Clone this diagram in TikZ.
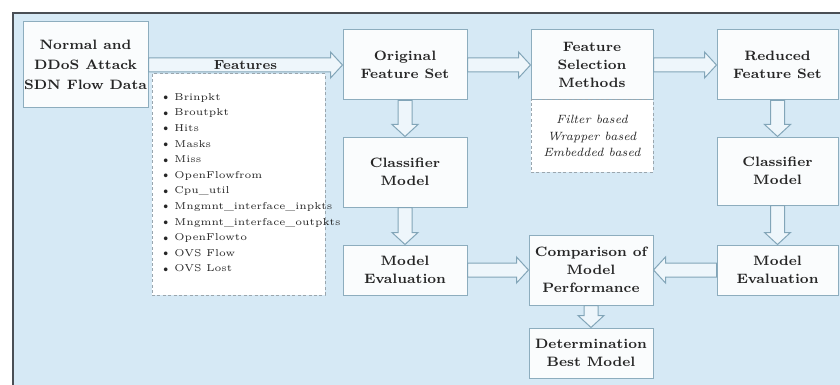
\documentclass[tikz,border=0pt]{standalone}
\usetikzlibrary{calc}

\definecolor{panelblue}{HTML}{D6E9F5}
\definecolor{framegray}{HTML}{4A4F55}
\definecolor{boxedge}{HTML}{8DADBE}
\definecolor{boxfill}{HTML}{FAFCFD}
\definecolor{arrowedge}{HTML}{82A5B8}
\definecolor{arrowfill}{HTML}{EEF6FB}
\definecolor{dashgray}{HTML}{9AA6AE}
\definecolor{inkgray}{HTML}{262626}

\tikzset{
  stage/.style={draw=boxedge, fill=boxfill, line width=0.5pt, inner sep=0pt,
    align=center, text=inkgray, font=\bfseries\fontsize{6.8}{9}\selectfont},
  dashbox/.style={draw=dashgray, fill=white, dash pattern=on 1.5pt off 1.2pt,
    line width=0.5pt, inner sep=0pt},
  flowarrow/.style={draw=arrowedge, fill=arrowfill, line width=0.5pt, line join=miter},
}

% hollow block arrow from #1 to #2 (shaft half-width 3.5pt, head 6.5pt, head length 6pt)
\newcommand\blockflow[2]{%
  \coordinate (bf-h) at ($(#2)!6pt!(#1)$);
  \path[flowarrow] ($(#1)!3.5pt!90:(#2)$) -- ($(bf-h)!3.5pt!90:(#2)$)
    -- ($(bf-h)!6.5pt!90:(#2)$) -- (#2) -- ($(bf-h)!6.5pt!-90:(#2)$)
    -- ($(bf-h)!3.5pt!-90:(#2)$) -- ($(#1)!3.5pt!-90:(#2)$) -- cycle;}

\newcommand\featitem[1]{\makebox[7.5pt][l]{\raisebox{-0.2pt}{\scalebox{1.25}{\textbullet}}}#1}

\begin{document}
\begin{tikzpicture}[x=0.5pt, y=-0.5pt]
  \useasboundingbox (0,0) rectangle (840,385);

  % background panel with its frame
  \fill[panelblue] (13,13) rectangle (850,395);
  \draw[framegray, line width=0.7pt] (13,395) -- (13,13) -- (850,13);

  % process boxes
  \node[stage, minimum width=62.5pt, minimum height=43pt,
        font=\bfseries\fontsize{6.8}{10}\selectfont] (src) at (85.5,65)
        {Normal and\\DDoS Attack\\SDN Flow Data};
  \node[stage, minimum width=62pt, minimum height=35pt] (orig) at (405,65)
        {Original\\Feature Set};
  \node[stage, minimum width=61pt, minimum height=35pt] (fsm) at (592,65)
        {Feature\\Selection\\Methods};
  \node[dashbox, minimum width=61pt, minimum height=36pt, align=center,
        text=inkgray, font=\itshape\fontsize{6}{8.2}\selectfont] (fsmkind) at (592,136)
        {Filter based\\Wrapper based\\Embedded based};
  \node[stage, minimum width=60.5pt, minimum height=35pt] (red) at (777.5,65)
        {Reduced\\Feature Set};
  \node[stage, minimum width=62pt, minimum height=35pt] (clsL) at (405,172)
        {Classifier\\Model};
  \node[stage, minimum width=60.5pt, minimum height=34pt] (clsR) at (777.5,171)
        {Classifier\\Model};
  \node[stage, minimum width=62pt, minimum height=25pt] (evalL) at (405,270)
        {Model\\Evaluation};
  \node[stage, minimum width=60.5pt, minimum height=25pt] (evalR) at (777.5,270)
        {Model\\Evaluation};
  \node[stage, minimum width=62pt, minimum height=35pt] (cmp) at (591,270)
        {Comparison of\\Model\\Performance};
  \node[stage, minimum width=62pt, minimum height=25pt] (best) at (591,353)
        {Determination\\Best Model};

  % feature list
  \node[dashbox, minimum width=86.5pt, minimum height=110.5pt] (featbox) at (238.5,184.5) {};
  \node[anchor=north west, inner sep=0pt, align=left, text=inkgray,
        font=\fontsize{5}{7.8}\selectfont] (featitems) at (159,93)
    {\featitem{Brinpkt}\\ \featitem{Broutpkt}\\ \featitem{Hits}\\ \featitem{Masks}\\
     \featitem{Miss}\\ \featitem{OpenFlowfrom}\\ \featitem{Cpu\_util}\\
     \featitem{Mngmnt\_interface\_inpkts}\\ \featitem{Mngmnt\_interface\_outpkts}\\
     \featitem{OpenFlowto}\\ \featitem{OVS Flow}\\ \featitem{OVS Lost}};

  % block arrows
  \blockflow{src.east}{orig.west}
  \blockflow{orig.east}{fsm.west}
  \blockflow{fsm.east}{red.west}
  \blockflow{orig.south}{clsL.north}
  \blockflow{clsL.south}{evalL.north}
  \blockflow{red.south}{clsR.north}
  \blockflow{clsR.south}{evalR.north}
  \blockflow{evalL.east}{cmp.west}
  \blockflow{evalR.west}{cmp.east}
  \blockflow{cmp.south}{best.north}

  \node[text=inkgray, font=\bfseries\fontsize{6.6}{8}\selectfont] (featlabel)
        at ($(src.east)!0.5!(orig.west)$) {Features};
\end{tikzpicture}
\end{document}
